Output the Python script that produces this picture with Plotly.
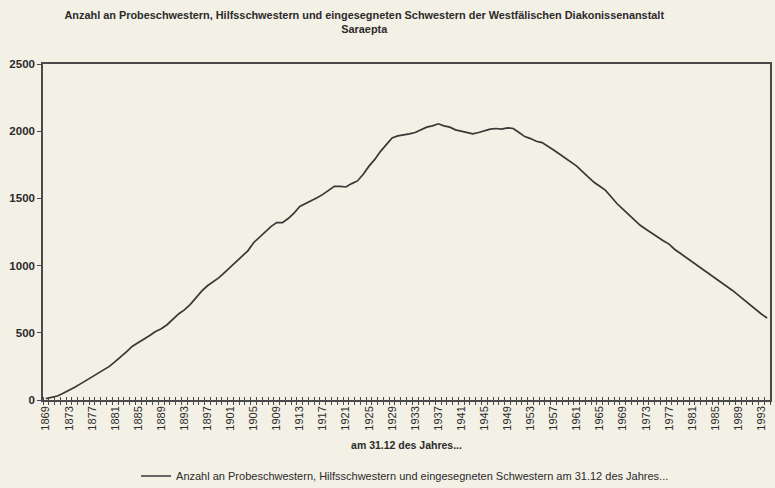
import plotly.graph_objects as go

years = list(range(1869, 1995))
values = [
    10, 20, 30, 50, 70, 95, 120, 145, 170, 195,
    220, 250, 285, 320, 360, 400, 425, 450, 480, 510,
    530, 560, 600, 640, 670, 710, 760, 810, 850, 880,
    910, 950, 990, 1030, 1070, 1110, 1170, 1210, 1250, 1290,
    1320, 1320, 1350, 1390, 1440, 1460, 1480, 1505, 1530, 1560,
    1590, 1590, 1585, 1610, 1630, 1680, 1740, 1790, 1850, 1900,
    1950, 1965, 1970, 1980, 1990, 2010, 2030, 2040, 2055, 2040,
    2030, 2010, 2000, 1985, 1980, 1990, 2005, 2015, 2020, 2015,
    2025, 2020, 1990, 1960, 1945, 1925, 1915, 1890, 1860, 1830,
    1800, 1770, 1740, 1700, 1660, 1620, 1590, 1560, 1510, 1460,
    1420, 1380, 1340, 1300, 1270, 1240, 1210, 1185, 1160, 1120,
    1090, 1060, 1030, 1000, 970, 940, 910, 880, 845, 815,
    780, 745, 710, 670, 640, 610,
]
tick_years = list(range(1869, 1994, 4))
y_ticks = [0, 500, 1000, 1500, 2000, 2500]

title_text = ("Anzahl an Probeschwestern, Hilfsschwestern und eingesegneten Schwestern "
              "der Westfälischen Diakonissenanstalt<br>Saraepta")
x_title = "am 31.12 des Jahres..."
series_name = "Anzahl an Probeschwestern, Hilfsschwestern und eingesegneten Schwestern am 31.12 des Jahres..."

BG = "#f3f0e5"
INK = "#2b2b2b"
AX = "#4a4a4a"
FONT = "Liberation Sans, Arial, sans-serif"

fig = go.Figure()
fig.add_trace(go.Scatter(
    x=years, y=values, mode="lines", name=series_name,
    line=dict(color="#383838", width=1.7),
))
fig.add_trace(go.Scatter(x=[years[0]], y=[values[0]], xaxis="x2", mode="lines",
                         showlegend=False, hoverinfo="skip", line=dict(width=0)))

fig.update_layout(
    width=775, height=488,
    paper_bgcolor=BG, plot_bgcolor=BG,
    margin=dict(l=43, r=5, t=64, b=88, autoexpand=False),
    font=dict(family=FONT, color=INK, size=9),
    title=dict(text="<b>" + title_text + "</b>", x=0.47, xanchor="center",
               y=0.962, yanchor="top", font=dict(size=10.9, color=INK)),
    showlegend=True,
    legend=dict(orientation="h", x=0.498, xanchor="center", y=-0.183, yanchor="top",
                font=dict(size=11, color=INK), bgcolor="rgba(0,0,0,0)", itemwidth=30),
    xaxis=dict(
        range=[1868.5, 1994.5], tickmode="array", tickvals=tick_years,
        ticktext=[str(t) for t in tick_years], tickangle=-90,
        ticks="", showgrid=False, zeroline=False, automargin=False,
        showline=True, linecolor=AX, linewidth=1.5, mirror=True,
        tickfont=dict(size=11, color=INK),
        minor=dict(ticks="outside", tick0=1868.5, dtick=1, ticklen=3,
                   tickcolor=AX, tickwidth=1, showgrid=False),
        title=dict(text="<b>" + x_title + "</b>", font=dict(size=10.5, color=INK), standoff=12),
    ),
    xaxis2=dict(
        overlaying="x", matches="x", showticklabels=False, showgrid=False,
        zeroline=False, showline=False, ticks="", automargin=False,
        minor=dict(ticks="inside", tick0=1868.5, dtick=1, ticklen=3,
                   tickcolor=AX, tickwidth=1, showgrid=False),
    ),
    yaxis=dict(
        range=[0, 2500], tickmode="array", tickvals=y_ticks, automargin=False,
        ticks="outside", ticklen=4, tickcolor=AX, showgrid=False, zeroline=False,
        showline=True, linecolor=AX, linewidth=1.5, mirror=True,
        tickfont=dict(size=11.5, color=INK, weight="bold"),
    ),
)

fig.write_html(
    "out.html",
    config={"displayModeBar": False},
    post_script="document.body.style.margin='0';document.body.style.background='" + BG + "';",
)
